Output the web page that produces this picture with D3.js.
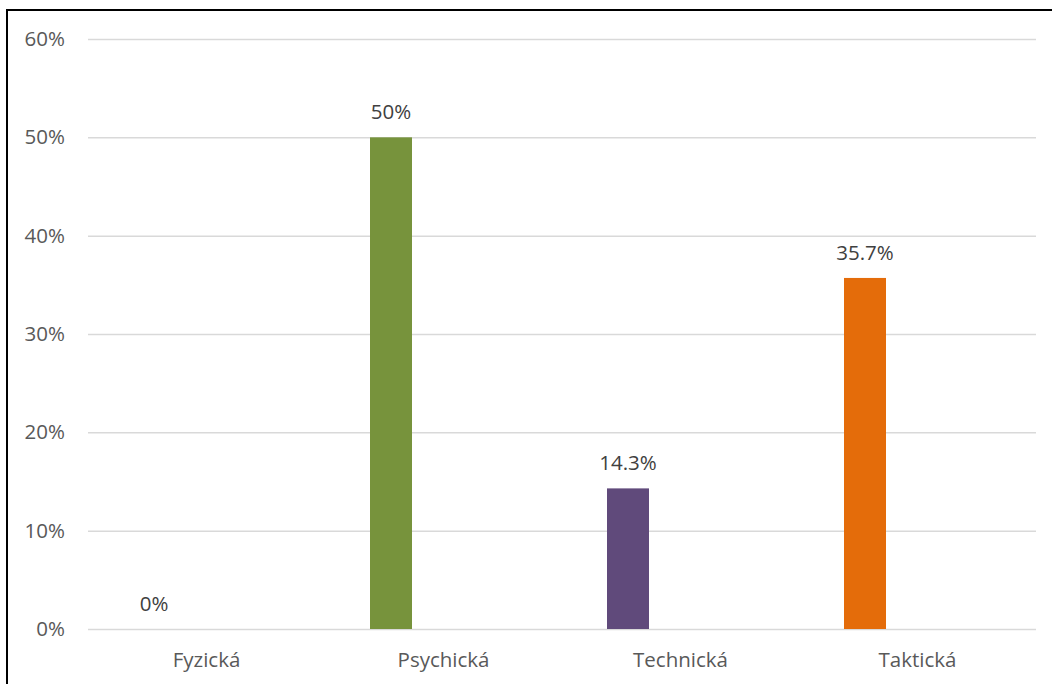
<!DOCTYPE html>
<html>
<head>
<meta charset="utf-8">
<script src="https://cdn.jsdelivr.net/npm/d3@7"></script>
<style>
  html, body { margin: 0; padding: 0; background: #fff; }
  svg { display: block; }
  text { font-family: "Open Sans", "Noto Sans", sans-serif; }
</style>
</head>
<body>
<svg id="chart" width="1052" height="684"></svg>
<script>
// Share of each kind of preparation
const categories = ["Fyzická", "Psychická", "Technická", "Taktická"];
const values = [0, 50, 14.3, 35.7];
const valueLabels = ["0%", "50%", "14.3%", "35.7%"];
const barColors = ["#4F81BD", "#77933C", "#604A7B", "#E46C0A"];
const yTicks = [0, 10, 20, 30, 40, 50, 60];
const seriesSlots = ["hodnota", "rezerva"];

const svg = d3.select("#chart");
const W = 1052, H = 684;
const margin = { left: 88, right: 16, top: 39, bottom: 55 };
const plotW = W - margin.left - margin.right;
const plotH = H - margin.top - margin.bottom;
const fontSize = 20.5;

const g = svg.append("g").attr("transform", `translate(${margin.left},${margin.top})`);

const x = d3.scaleBand().domain(categories).range([0, plotW]);
const xSub = d3.scaleBand().domain(seriesSlots).range([0, x.bandwidth()])
  .paddingInner(0.6).paddingOuter(0.4286);
const y = d3.scaleLinear().domain([0, 60]).range([plotH, 0]);

// horizontal gridlines with percentage labels
const yAxis = d3.axisLeft(y).tickValues(yTicks).tickFormat(d => d + "%")
  .tickSize(-plotW).tickPadding(23);
const ya = g.append("g").call(yAxis);
ya.select(".domain").remove();
ya.selectAll(".tick line").attr("stroke", "#d9d9d9").attr("stroke-width", 1.5);
ya.selectAll(".tick text").attr("fill", "#595959").attr("font-size", fontSize);

// category labels below the baseline
const xAxis = d3.axisBottom(x).tickSize(0).tickPadding(23);
const xa = g.append("g").attr("transform", `translate(0,${plotH})`).call(xAxis);
xa.select(".domain").remove();
xa.selectAll(".tick text").attr("fill", "#595959").attr("font-size", fontSize);

// bars
g.selectAll("rect.bar").data(categories).join("rect")
  .attr("class", "bar")
  .attr("x", (d) => x(d) + xSub("hodnota"))
  .attr("width", xSub.bandwidth())
  .attr("y", (d, i) => y(values[i]))
  .attr("height", (d, i) => plotH - y(values[i]))
  .attr("fill", (d, i) => barColors[i]);

// value labels above bars
g.selectAll("text.val").data(categories).join("text")
  .attr("class", "val")
  .attr("x", (d) => x(d) + xSub("hodnota") + xSub.bandwidth() / 2)
  .attr("y", (d, i) => y(values[i]) - 18)
  .attr("text-anchor", "middle")
  .attr("fill", "#404040")
  .attr("font-size", fontSize)
  .text((d, i) => valueLabels[i]);

// frame on the left and top edges
svg.append("line").attr("x1", 7).attr("x2", 7).attr("y1", 9).attr("y2", H)
  .attr("stroke", "#000").attr("stroke-width", 2);
svg.append("line").attr("x1", 6).attr("x2", W).attr("y1", 10).attr("y2", 10)
  .attr("stroke", "#000").attr("stroke-width", 2);
</script>
</body>
</html>
